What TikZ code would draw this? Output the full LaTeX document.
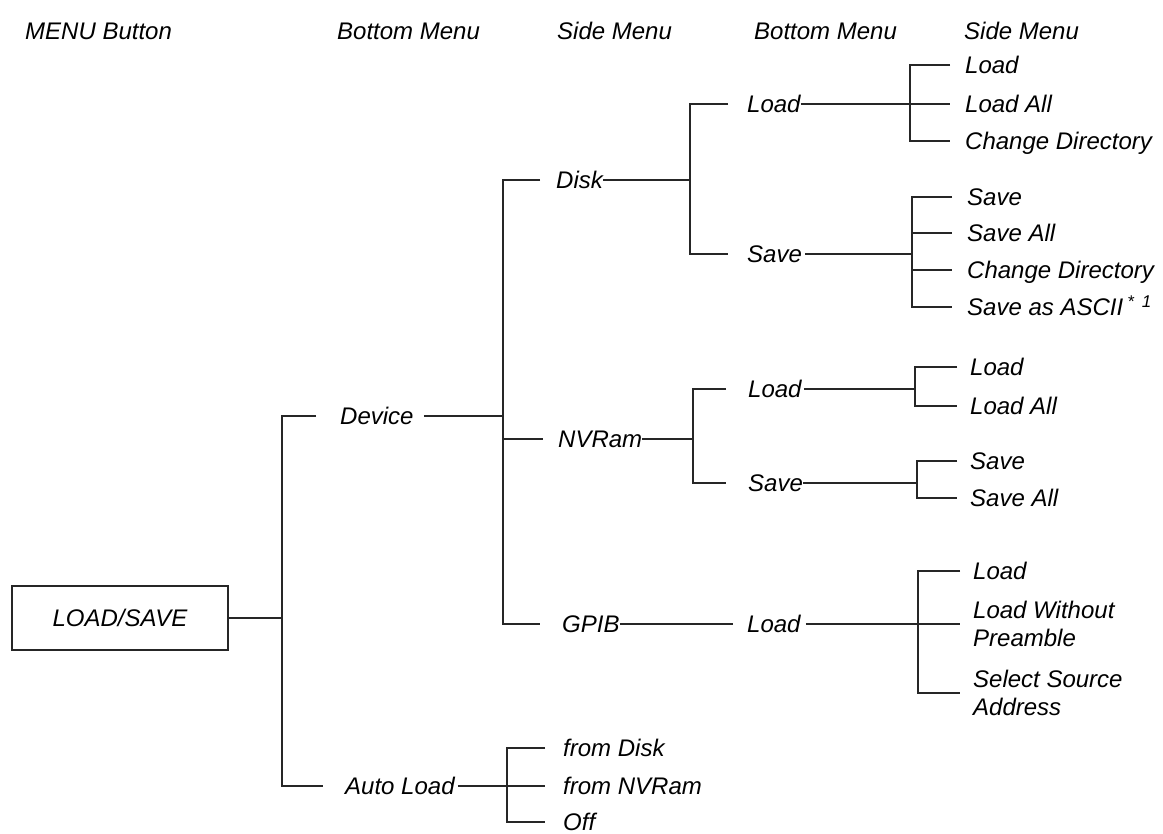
\documentclass[tikz,border=0pt]{standalone}
\usepackage{fontspec}
\setmainfont{Liberation Sans}
\begin{document}
\begin{tikzpicture}[x=1pt,y=-1pt]
\tikzset{
  lbl/.style={anchor=west, inner sep=0pt, text height=17.5pt, text depth=0pt,
    font=\fontsize{24}{28}\selectfont\itshape},
  lbltwo/.style={anchor=west, inner sep=0pt, align=left,
    font=\fontsize{24}{28}\selectfont\itshape},
  conn/.style={line width=1.3pt, draw=black!85},
  rootbox/.style={draw=black!85, line width=1.3pt, minimum width=216pt, minimum height=64pt,
    inner sep=0pt, font=\fontsize{24}{28}\selectfont\itshape}
}
\fill[white] (0,0) rectangle (1163,834);
\useasboundingbox (0,0) rectangle (1163,834);

% headers
\node[lbl] (h1) at (25,31) {MENU Button};
\node[lbl] (h2) at (337,31) {Bottom Menu};
\node[lbl] (h3) at (557,31) {Side Menu};
\node[lbl] (h4) at (754,31) {Bottom Menu};
\node[lbl] (h5) at (964,31) {Side Menu};

% root
\node[rootbox] (ls) at (120,618) {LOAD/SAVE};

% level 1
\node[lbl] (dev) at (340,416) {Device};
\node[lbl] (al) at (345,786) {Auto Load};

% level 2 (device)
\node[lbl] (disk) at (556,180) {Disk};
\node[lbl] (nv) at (558,439) {NVRam};
\node[lbl] (gp) at (562,624) {GPIB};

% level 2 (auto load)
\node[lbl] (a1) at (563,748) {from Disk};
\node[lbl] (a2) at (563,786) {from NVRam};
\node[lbl] (a3) at (563,822) {Off};

% level 3
\node[lbl] (dl) at (747,104) {Load};
\node[lbl] (ds) at (747,254) {Save};
\node[lbl] (nl) at (748,389) {Load};
\node[lbl] (ns) at (748,483) {Save};
\node[lbl] (gl) at (747,624) {Load};

% level 4
\node[lbl] (c1) at (965,65) {Load};
\node[lbl] (c2) at (965,104) {Load All};
\node[lbl] (c3) at (965,141) {Change Directory};

\node[lbl] (s1) at (967,197) {Save};
\node[lbl] (s2) at (967,233) {Save All};
\node[lbl] (s3) at (967,270) {Change Directory};
\node[lbl] (s4) at (967,307) {Save as ASCII\hspace{4pt}\raisebox{8pt}{\fontsize{17}{17}\selectfont *\hspace{8pt}1}};

\node[lbl] (n1) at (970,367) {Load};
\node[lbl] (n2) at (970,406) {Load All};
\node[lbl] (m1) at (970,461) {Save};
\node[lbl] (m2) at (970,498) {Save All};

\node[lbl] (g1) at (973,571) {Load};
\node[lbltwo] (g2) at (973,624) {Load Without\\Preamble};
\node[lbltwo] (g3) at (973,693) {Select Source\\Address};

% junction coordinates
\coordinate (j0) at (282,618);
\coordinate (j1) at (503,416);
\coordinate (j2) at (690,180);
\coordinate (j3) at (693,439);
\coordinate (j4) at (507,786);
\coordinate (k1) at (910,104);
\coordinate (k2) at (912,254);
\coordinate (k3) at (915,389);
\coordinate (k4) at (917,483);
\coordinate (k5) at (918,624);

% root connectors
\draw[conn] (ls.east) -- (j0);
\draw[conn] ([xshift=-24pt]dev.west) -| (282,786) -- ([xshift=-22pt]al.west);

% device
\draw[conn] ([xshift=10pt]dev.east) -- (j1);
\draw[conn] ([xshift=-16pt]disk.west) -| (503,624) -- ([xshift=-22pt]gp.west);
\draw[conn] (j1 |- nv.west) -- ([xshift=-15pt]nv.west);

% auto load
\draw[conn] ([xshift=3pt]al.east) -- (j4);
\draw[conn] ([xshift=-18pt]a1.west) -| (507,822) -- ([xshift=-18pt]a3.west);
\draw[conn] (j4) -- ([xshift=-18pt]a2.west);

% disk
\draw[conn] (disk.east) -- (j2);
\draw[conn] ([xshift=-19pt]dl.west) -| (690,254) -- ([xshift=-19pt]ds.west);
\draw[conn] (dl.east) -- (k1);
\draw[conn] ([xshift=-15pt]c1.west) -| (910,141) -- ([xshift=-15pt]c3.west);
\draw[conn] (k1) -- ([xshift=-15pt]c2.west);
\draw[conn] ([xshift=3pt]ds.east) -- (k2);
\draw[conn] ([xshift=-15pt]s1.west) -| (912,307) -- ([xshift=-15pt]s4.west);
\draw[conn] (k2 |- s2.west) -- ([xshift=-15pt]s2.west);
\draw[conn] (k2 |- s3.west) -- ([xshift=-15pt]s3.west);

% nvram
\draw[conn] (nv.east) -- (j3);
\draw[conn] ([xshift=-22pt]nl.west) -| (693,483) -- ([xshift=-22pt]ns.west);
\draw[conn] ([xshift=2pt]nl.east) -- (k3);
\draw[conn] ([xshift=-13pt]n1.west) -| (915,406) -- ([xshift=-13pt]n2.west);
\draw[conn] (ns.east) -- (k4);
\draw[conn] ([xshift=-13pt]m1.west) -| (917,498) -- ([xshift=-13pt]m2.west);

% gpib
\draw[conn] (gp.east) -- ([xshift=-14pt]gl.west);
\draw[conn] ([xshift=5pt]gl.east) -- (k5);
\draw[conn] ([xshift=-13pt]g1.west) -| (918,693) -- ([xshift=-13pt]g3.west);
\draw[conn] (k5) -- ([xshift=-13pt]g2.west);
\end{tikzpicture}
\end{document}
